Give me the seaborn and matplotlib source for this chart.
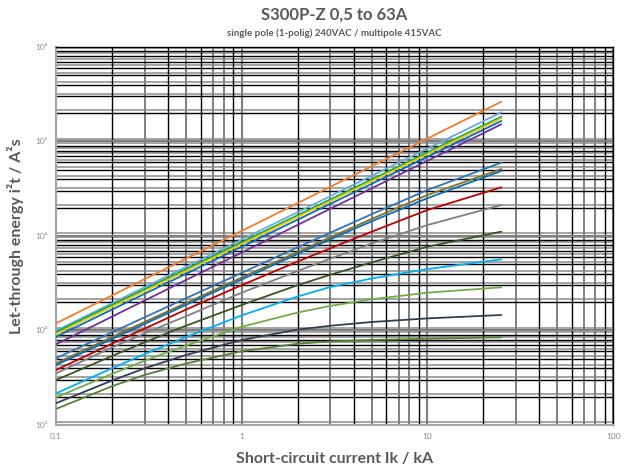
import numpy as np
import pandas as pd
import seaborn as sns
import matplotlib.pyplot as plt
from matplotlib.ticker import LogLocator, FixedLocator, FixedFormatter, NullFormatter

# prospective short-circuit current (kA) where curves were read
ik = [0.1, 0.2, 0.3, 0.5, 1, 2, 3, 5, 10, 25]

# let-through energy (A^2s), one list per curve
orange = [1191, 2344, 3491, 5754, 11320, 22280, 33190, 54700, 107600, 263600]
light_blue = [995, 1941, 2871, 4699, 9162, 17860, 26420, 43250, 84330, 203700]
green = [964, 1862, 2735, 4446, 8590, 16600, 24380, 39630, 76560, 182800]
gold = [918, 1778, 2612, 4246, 8222, 15920, 23390, 38020, 73620, 175800]
blue = [859, 1663, 2443, 3972, 7691, 14890, 21880, 35560, 68870, 164800]
purple = [714, 1400, 2075, 3412, 6683, 13090, 19410, 31920, 62520, 152100]
steel = [508, 955, 1380, 2188, 4074, 7586, 10840, 16980, 30690, 59700]
olive = [450, 851, 1230, 1950, 3631, 6761, 9661, 15140, 27160, 51170]
blue2 = [431, 813, 1175, 1862, 3467, 6457, 9226, 14290, 25120, 48750]
red = [382, 724, 1047, 1660, 3020, 5370, 7413, 11090, 18840, 32740]
grey = [352, 661, 933, 1413, 2512, 4266, 5754, 8318, 13060, 21280]
dark_green = [299, 537, 750, 1122, 1862, 3020, 3890, 5248, 7709, 11120]
cyan = [216, 398, 562, 851, 1445, 2291, 2884, 3548, 4467, 5662]
light_green = [196, 347, 479, 692, 1096, 1549, 1820, 2138, 2512, 2864]
navy = [170, 295, 398, 550, 794, 1023, 1122, 1230, 1343, 1459]
green2 = [148, 257, 339, 447, 603, 724, 767, 794, 818, 847]

curves = {
    "orange": orange, "light_blue": light_blue, "green": green, "gold": gold,
    "blue": blue, "purple": purple, "steel": steel, "olive": olive,
    "blue2": blue2, "red": red, "grey": grey, "dark_green": dark_green,
    "cyan": cyan, "light_green": light_green, "navy": navy, "green2": green2,
}
colors = ["#ED7D31", "#6FA8DC", "#00B050", "#FFC000", "#0070C0", "#7030A0",
          "#2E75B6", "#8C6D1F", "#0070C0", "#C00000", "#808080", "#375623",
          "#00B0F0", "#70AD47", "#333F50", "#548235"]

y_ticks = [1e2, 1e3, 1e4, 1e5, 1e6]
y_labels = ["10²", "10³", "10⁴", "10⁵", "10⁶"]
x_ticks = [0.1, 1, 10, 100]
x_labels = ["0,1", "1", "10", "100"]

rows = []
for name, vals in curves.items():
    for x, y in zip(ik, vals):
        rows.append({"curve": name, "ik": x, "i2t": y})
df = pd.DataFrame(rows)

sns.set_style("white")
plt.rcParams["font.family"] = ["Lato", "DejaVu Sans"]

fig = plt.figure(figsize=(6.24, 4.65), dpi=100)
rect = [0.0897, 0.086, 0.893, 0.813]

# background axes: second (slightly shifted) grey grid, as in the scanned chart
ax_bg = fig.add_axes(rect, zorder=0)
ax_bg.set_xscale("log")
ax_bg.set_yscale("log")
ax_bg.set_xlim(0.1, 100)
ax_bg.set_ylim(1e2 * 10 ** -0.03, 1e6 * 10 ** -0.03)
ax_bg.yaxis.set_minor_locator(LogLocator(base=10, subs=np.arange(2, 10)))
ax_bg.grid(axis="y", which="both", color="#8c8c8c", linewidth=1.1)
ax_bg.tick_params(which="both", length=0, labelleft=False, labelbottom=False)
for s in ax_bg.spines.values():
    s.set_visible(False)

ax = fig.add_axes(rect, zorder=1)
ax.patch.set_alpha(0)

sns.lineplot(data=df, x="ik", y="i2t", hue="curve", palette=colors,
             legend=False, linewidth=1.3, ax=ax, zorder=3)

ax.set_xscale("log")
ax.set_yscale("log")
ax.set_xlim(0.1, 100)
ax.set_ylim(1e2, 1e6)

ax.xaxis.set_major_locator(FixedLocator(x_ticks))
ax.xaxis.set_major_formatter(FixedFormatter(x_labels))
ax.yaxis.set_major_locator(FixedLocator(y_ticks))
ax.yaxis.set_major_formatter(FixedFormatter(y_labels))
ax.xaxis.set_minor_locator(LogLocator(base=10, subs=np.arange(2, 10)))
ax.yaxis.set_minor_locator(LogLocator(base=10, subs=np.arange(2, 10)))
ax.xaxis.set_minor_formatter(NullFormatter())
ax.yaxis.set_minor_formatter(NullFormatter())

ax.grid(which="minor", color="black", linewidth=1.0)
ax.grid(which="major", color="#7f7f7f", linewidth=1.5)
ax.tick_params(which="both", length=0, labelsize=6, colors="#8c8c8c", pad=6)

# vertical grid lines alternate grey / black in the original
fig.canvas.draw()
grey_subs = {3, 5, 7, 8}
for tick, loc in zip(ax.xaxis.get_minor_ticks(), ax.xaxis.get_minorticklocs()):
    sub = int(round(loc / 10 ** np.floor(np.log10(loc) + 1e-9)))
    if sub in grey_subs:
        tick.gridline.set_color("#7f7f7f")
        tick.gridline.set_linewidth(1.4)

for side in ["left", "bottom"]:
    ax.spines[side].set_color("#a6a6a6")
    ax.spines[side].set_linewidth(1.5)
for side in ["top", "right"]:
    ax.spines[side].set_color("black")
    ax.spines[side].set_linewidth(1.0)

ax.set_xlabel("Short-circuit current Ik / kA", fontsize=11.5, fontweight="bold",
              color="#595959", labelpad=8)
ax.set_ylabel("Let-through energy i²t / A²s", fontsize=11.5, fontweight="bold",
              color="#595959", labelpad=8)

fig.text(0.535, 0.968, "S300P-Z 0,5 to 63A", ha="center", va="center",
         fontsize=12, fontweight="bold", color="#595959")
fig.text(0.535, 0.928, "single pole (1-polig) 240VAC / multipole 415VAC",
         ha="center", va="center", fontsize=7, fontweight="bold", color="#595959")

fig.savefig("out.png", dpi=100)
